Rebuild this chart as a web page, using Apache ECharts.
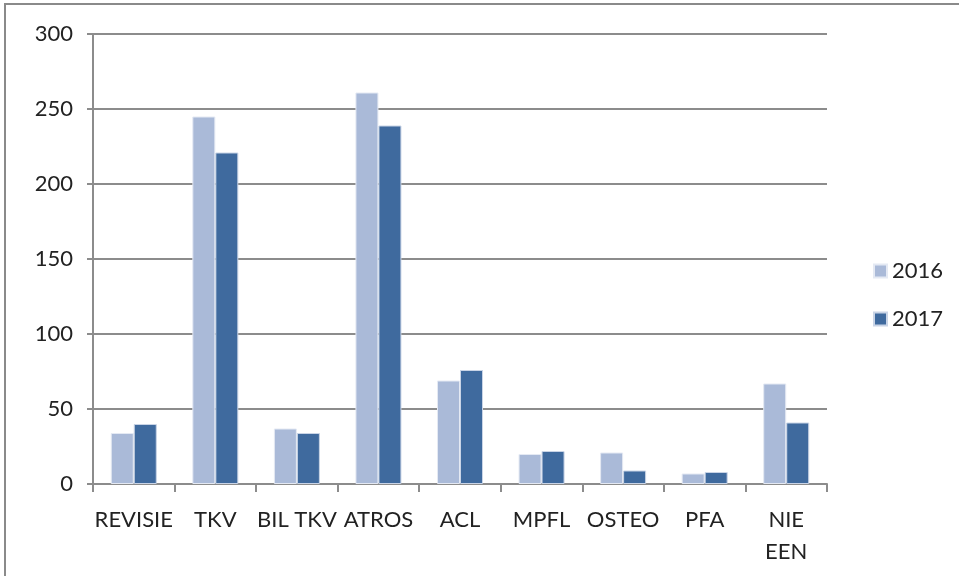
<!DOCTYPE html>
<html>
    <head>
        <meta charset="utf-8">
        <script src="https://cdn.jsdelivr.net/npm/echarts@6/dist/echarts.min.js"></script>
    </head>
    <body>
        <style>
            html, body, #main {
                margin: 0;
                width: 959px;
                height: 576px;
                background: #fff;
            }
        </style>

        <div id="main"></div>

        <script>
            const categories = ['REVISIE', 'TKV', 'BIL TKV', 'ATROS', 'ACL', 'MPFL', 'OSTEO', 'PFA', 'NIE EEN'];
            const values2016 = [34, 245, 37, 261, 69, 20, 21, 7, 67];
            const values2017 = [40, 221, 34, 239, 76, 22, 9, 8, 41];
            const yTicks = [0, 50, 100, 150, 200, 250, 300];

            const font = 'Lato, "Liberation Sans", sans-serif';
            var chart = echarts.init(document.querySelector('#main'));

            var option = {
                animation: false,
                textStyle: {fontFamily: font},
                graphic: [{
                    type: 'rect',
                    shape: {x: 5, y: 4, width: 980, height: 600},
                    style: {fill: null, stroke: '#8a8a8a', lineWidth: 2},
                    silent: true
                }],
                grid: {left: 93, right: 132, top: 34, bottom: 92},
                legend: {
                    orient: 'vertical',
                    left: 868,
                    top: 255,
                    itemWidth: 13,
                    itemHeight: 13,
                    itemGap: 26,
                    icon: 'rect',
                    textStyle: {fontSize: 22, lineHeight: 22, color: '#222', fontFamily: font},
                    data: ['2016', '2017']
                },
                xAxis: {
                    type: 'category',
                    data: categories,
                    axisLine: {lineStyle: {color: '#8c8c8c', width: 2}},
                    axisTick: {show: true, length: 8, lineStyle: {color: '#8c8c8c', width: 2}},
                    axisLabel: {
                        fontSize: 22,
                        color: '#222',
                        margin: 20,
                        lineHeight: 32,
                        interval: 0,
                        formatter: v => v === 'NIE EEN' ? 'NIE\nEEN' : v
                    }
                },
                yAxis: {
                    type: 'value',
                    min: yTicks[0],
                    max: yTicks[yTicks.length - 1],
                    interval: 50,
                    axisLine: {show: true, lineStyle: {color: '#8c8c8c', width: 2}},
                    axisTick: {show: true, length: 6, lineStyle: {color: '#8c8c8c', width: 2}},
                    axisLabel: {fontSize: 22, color: '#222', margin: 20},
                    splitLine: {lineStyle: {color: '#8c8c8c', width: 2}}
                },
                series: [{
                    name: '2016',
                    type: 'bar',
                    data: values2016,
                    barWidth: 23,
                    barGap: '0%',
                    itemStyle: {color: '#aabad8', borderColor: '#e4e9f3', borderWidth: 1}
                }, {
                    name: '2017',
                    type: 'bar',
                    data: values2017,
                    barWidth: 23,
                    itemStyle: {color: '#3f6a9e', borderColor: '#c9d4e6', borderWidth: 1}
                }]
            };

            chart.setOption(option);
        </script>
    </body>
</html>
